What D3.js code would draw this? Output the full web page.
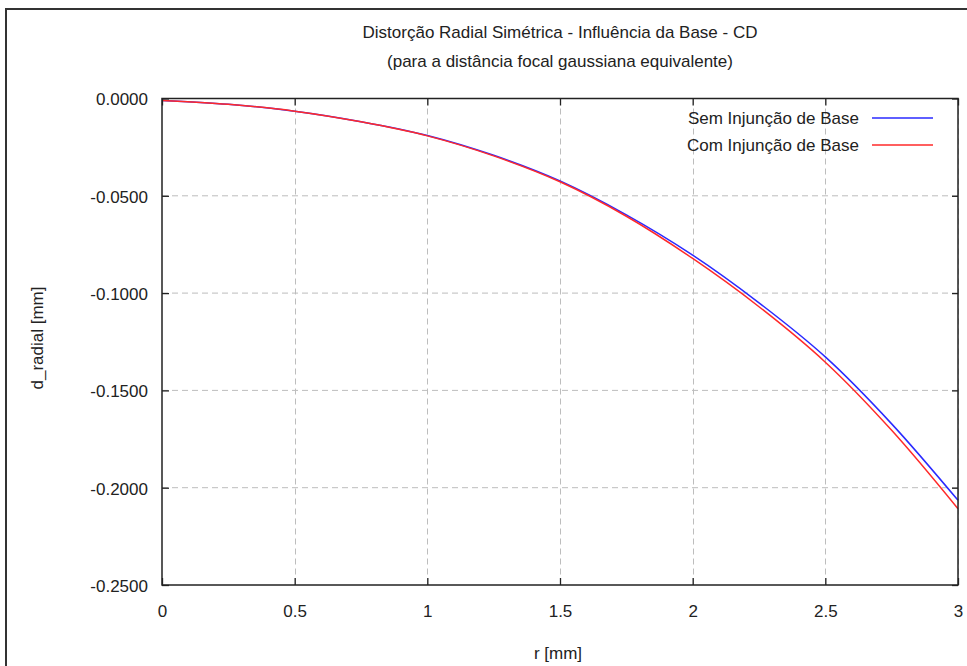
<!DOCTYPE html>
<html>
<head>
<meta charset="utf-8">
<script src="https://cdn.jsdelivr.net/npm/d3@7"></script>
<style>
  html, body { margin: 0; padding: 0; background: #fff; }
  svg { display: block; }
  text { font-family: "Liberation Sans", Arial, sans-serif; fill: #222; }
</style>
</head>
<body>
<svg id="chart" width="967" height="666"></svg>
<script>
// ---- data ----
const rValues = [0, 0.25, 0.5, 0.75, 1.0, 1.25, 1.5, 1.75, 2.0, 2.25, 2.5, 2.75, 3.0];
const semInjuncao = [-0.0010, -0.0030, -0.0065, -0.0119, -0.0190, -0.0292, -0.0424, -0.0598, -0.0805, -0.1050, -0.1328, -0.1672, -0.2065];
const comInjuncao = [-0.0010, -0.0030, -0.0065, -0.0120, -0.0192, -0.0295, -0.0428, -0.0605, -0.0822, -0.1070, -0.1355, -0.1705, -0.2108];
const seriesNames = ["Sem Injunção de Base", "Com Injunção de Base"];
const seriesColors = ["#2a2aff", "#ff2a2a"];
const xTickValues = [0, 0.5, 1, 1.5, 2, 2.5, 3];
const xTickLabels = ["0", "0.5", "1", "1.5", "2", "2.5", "3"];
const yTickValues = [0, -0.05, -0.10, -0.15, -0.20, -0.25];
const yTickLabels = ["0.0000", "-0.0500", "-0.1000", "-0.1500", "-0.2000", "-0.2500"];
const titleText = "Distorção Radial Simétrica - Influência da Base - CD";
const subtitleText = "(para a distância focal gaussiana equivalente)";
const xTitle = "r [mm]";
const yTitle = "d_radial [mm]";

(function () {
// ---- layout ----
const svg = d3.select("#chart");
const pL = 162, pR = 958, pT = 98.5, pB = 585;
const x = d3.scaleLinear().domain([0, 3]).range([pL, pR]);
const y = d3.scaleLinear().domain([-0.25, 0]).range([pB, pT]);

// outer border
svg.append("rect").attr("x", 6).attr("y", 9).attr("width", 1000).attr("height", 700)
  .attr("fill", "none").attr("stroke", "#333").attr("stroke-width", 2);

// grid
const grid = svg.append("g").attr("stroke", "#bdbdbd").attr("stroke-width", 1).attr("stroke-dasharray", "6,4");
grid.selectAll("line.v").data(xTickValues.filter(d => d > 0)).join("line")
  .attr("x1", d => Math.round(x(d)) + 0.5).attr("x2", d => Math.round(x(d)) + 0.5)
  .attr("y1", pT).attr("y2", pB);
grid.selectAll("line.h").data(yTickValues.filter(d => d < 0 && d > -0.25)).join("line")
  .attr("y1", d => y(d)).attr("y2", d => y(d))
  .attr("x1", pL).attr("x2", pR);

// series
const line = d3.line().x((d, i) => x(rValues[i])).y(d => y(d)).curve(d3.curveCatmullRom.alpha(0.5));
[semInjuncao, comInjuncao].forEach((s, k) => {
  svg.append("path").datum(s).attr("d", line)
    .attr("fill", "none").attr("stroke", seriesColors[k]).attr("stroke-width", 1.5);
});

// axes
const fmtX = (d) => xTickLabels[xTickValues.indexOf(d)];
const fmtY = (d) => yTickLabels[yTickValues.findIndex(v => Math.abs(v - d) < 1e-9)];

const axB = svg.append("g").attr("transform", `translate(0,${pB})`)
  .call(d3.axisBottom(x).tickValues(xTickValues).tickFormat(fmtX).tickSize(-7).tickPadding(20).tickSizeOuter(0));
const axL = svg.append("g").attr("transform", `translate(${pL},0)`)
  .call(d3.axisLeft(y).tickValues(yTickValues).tickFormat(fmtY).tickSize(-7).tickPadding(14).tickSizeOuter(0));
const axT = svg.append("g").attr("transform", `translate(0,${pT})`)
  .call(d3.axisTop(x).tickValues(xTickValues).tickFormat("").tickSize(-7).tickSizeOuter(0));
const axR = svg.append("g").attr("transform", `translate(${pR},0)`)
  .call(d3.axisRight(y).tickValues(yTickValues).tickFormat("").tickSize(-6).tickSizeOuter(0));

[axB, axL, axT, axR].forEach(g => {
  g.selectAll(".domain").remove();
  g.selectAll(".tick line").attr("stroke", "#222").attr("stroke-width", 1.3);
  g.selectAll("text").attr("font-size", 17).attr("font-family", "Liberation Sans, Arial, sans-serif").attr("fill", "#222");
});
axL.selectAll("text").attr("dy", "0.38em");

// frame
svg.append("rect").attr("x", pL).attr("y", pT).attr("width", pR - pL).attr("height", pB - pT)
  .attr("fill", "none").attr("stroke", "#222").attr("stroke-width", 1.5);

// titles
svg.append("text").attr("x", 560).attr("y", 38).attr("text-anchor", "middle").attr("font-size", 17).text(titleText);
svg.append("text").attr("x", 560).attr("y", 67).attr("text-anchor", "middle").attr("font-size", 17).text(subtitleText);
svg.append("text").attr("x", 558).attr("y", 659).attr("text-anchor", "middle").attr("font-size", 17).text(xTitle);
svg.append("text").attr("transform", "translate(43,338) rotate(-90)").attr("text-anchor", "middle").attr("font-size", 17).text(yTitle);

// legend
const legendRows = [118, 145];
seriesNames.forEach((name, k) => {
  svg.append("text").attr("x", 859).attr("y", legendRows[k] + 6).attr("text-anchor", "end")
    .attr("font-size", 17).text(name);
  svg.append("line").attr("x1", 872).attr("x2", 933).attr("y1", legendRows[k]).attr("y2", legendRows[k])
    .attr("stroke", seriesColors[k]).attr("stroke-width", 1.5);
});
})();
</script>
</body>
</html>
